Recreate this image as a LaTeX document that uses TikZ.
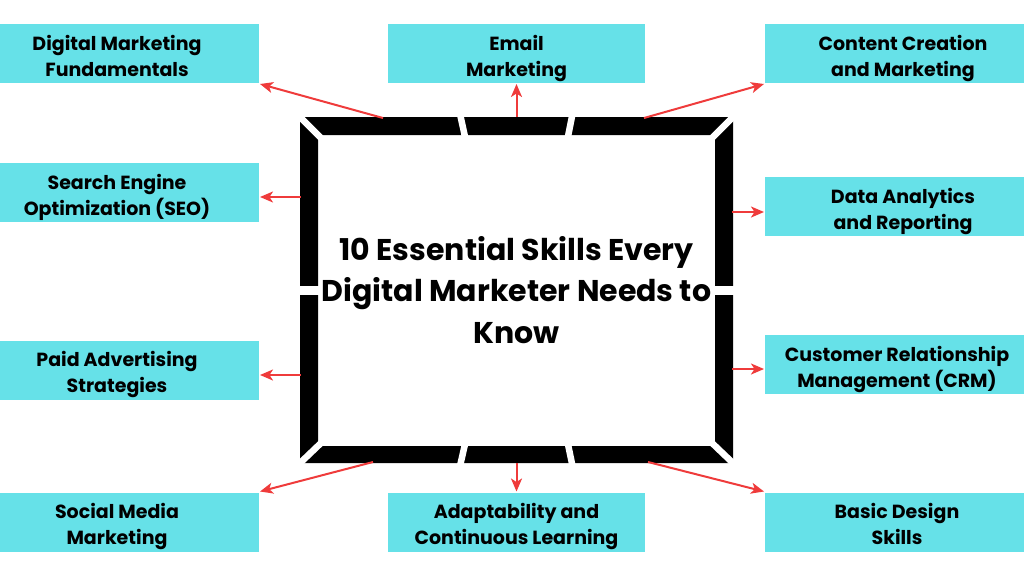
\documentclass[tikz,border=0pt]{standalone}
\usepackage{fontspec}
\setmainfont{Poppins}[BoldFont={Poppins Bold}]
\usepackage{tikz}
\usetikzlibrary{positioning}
\usetikzlibrary{calc}
\usetikzlibrary{arrows.meta}
\definecolor{boxcyan}{HTML}{66E1E8}
\definecolor{arrred}{HTML}{EF3B3B}
\tikzset{
sk/.style={
  rectangle,
  inner sep=0pt,
  minimum height=59pt,
  text height=50pt,
  text depth=5pt,
  align=center,
  fill=boxcyan,
  font=\bfseries\fontsize{19}{26}\selectfont
  }
}
\begin{document}
\begin{tikzpicture}[x=1pt,y=-1pt,->,>={Stealth[length=13pt,width=11pt,inset=3.5pt]},line width=2pt]
        \useasboundingbox (0,0) rectangle (1024,576);
        % skill boxes
        \node[sk,minimum width=284pt] at (117,53.5) (fund) {Digital Marketing\\Fundamentals};
        \node[sk,minimum width=257pt] at (516.5,53.5) (email) {Email\\Marketing};
        \node[sk,minimum width=276pt] at (903,53.5) (content) {Content Creation\\and Marketing};
        \node[sk,minimum width=284pt] at (117,192.5) (seo) {Search Engine\\Optimization (SEO)};
        \node[sk,minimum width=276pt] at (903,206.5) (data) {Data Analytics\\and Reporting};
        \node[sk,minimum width=284pt] at (117,370) (paid) {Paid Advertising\\Strategies};
        \node[sk,minimum width=264pt] at (897,364.5) (crm) {Customer Relationship\\Management (CRM)};
        \node[sk,minimum width=284pt] at (117,522) (social) {Social Media\\Marketing};
        \node[sk,minimum width=257pt] at (516.5,522) (adapt) {Adaptability and\\Continuous Learning};
        \node[sk,minimum width=264pt] at (897,522) (basic) {Basic Design\\Skills};
        % frame
        \node[minimum width=431pt,minimum height=344pt,inner sep=0pt,align=center,
              font=\bfseries\fontsize{30}{41.5}\selectfont] at (516.5,290) (frame)
              {10 Essential Skills Every\\Digital Marketer Needs to\\Know};
        \fill[black,even odd rule] (frame.north west) rectangle (frame.south east)
              (318,135) rectangle (715,446);
        \begin{scope}[-,white,line width=6.5pt]
        \draw (298,115) -- (321,138);
        \draw (735,115) -- (712,138);
        \draw (298,465) -- (321,443);
        \draw (735,465) -- (712,443);
        \draw (460,114) -- (465.5,139);
        \draw (572.5,114) -- (567.5,139);
        \draw (465.5,442) -- (460,466);
        \draw (567.5,442) -- (572.5,466);
        \draw[line width=8.5pt] (297,290.5) -- (322,290.5);
        \draw[line width=8.5pt] (711,290.5) -- (736,290.5);
        \end{scope}
        % arrows
        \coordinate (s1) at (383,118);
        \coordinate (s3) at (644,118);
        \coordinate (s4) at (301,197);
        \coordinate (s5) at (732,212);
        \coordinate (s6) at (301,375);
        \coordinate (s7) at (732,369);
        \coordinate (s8) at (373,462);
        \coordinate (s10) at (648,462);
        \path[->,arrred]
        (s1) edge (fund.south east)
        (frame.north) edge (email.south)
        (s3) edge (content.south west)
        (s4) edge (s4 -| seo.east)
        (s5) edge (s5 -| data.west)
        (s6) edge (s6 -| paid.east)
        (s7) edge (s7 -| crm.west)
        (s8) edge (social.north east)
        (frame.south) edge (adapt.north)
        (s10) edge (basic.north west)
        ;
    \end{tikzpicture}
\end{document}
